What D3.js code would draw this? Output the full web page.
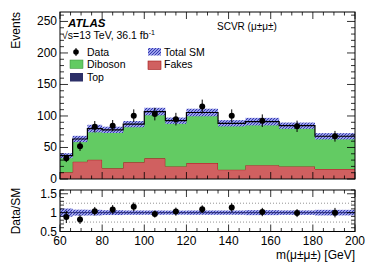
<!DOCTYPE html>
<html><head><meta charset="utf-8">
<script src="https://cdn.jsdelivr.net/npm/d3@7"></script>
<style>body{margin:0;background:#fff}svg{display:block}text{font-family:"Liberation Sans",Arial,Helvetica,sans-serif;fill:#000}</style>
</head><body><svg id="c" width="374" height="268"></svg>
<script>
// ---- data ----
const binEdges = [60, 66, 73, 80, 90, 100, 110, 120, 135, 148, 164, 181, 200];
const fakes    = [10.6, 27.5, 30.6, 17, 26.5, 32.8, 20, 25.4, 14.8, 22, 20, 15.9];
const diboson  = [25.4, 35, 48.4, 60, 59.5, 73.2, 71.5, 79.1, 72.6, 68, 63.6, 50.9];
const topQuark = [1, 1, 1, 1, 1, 1, 1, 1, 1, 1, 1, 1];
const smUnc    = [4, 5, 6, 5, 5, 6, 5, 6, 5, 6, 5, 5];
const dataVals = [32.8, 52, 83, 84.6, 100.5, 103, 95, 115, 100.5, 92.5, 83.6, 67.8];
const dataErr  = [6, 7.5, 9, 9, 10, 10, 10, 11, 10, 10, 9, 8.5];
const xTicks = [60, 80, 100, 120, 140, 160, 180, 200];
const yTicks = [0, 50, 100, 150, 200, 250];
const rTicks = [0.5, 1, 1.5];

const svg = d3.select("#c");
const L = 60, R = 355, mT = 12, mB = 179, rT = 190, rB = 231.5;
const x = d3.scaleLinear().domain([60, 200]).range([L, R]);
const y = d3.scaleLinear().domain([0, 265]).range([mB, mT]);
const yr = d3.scaleLinear().domain([0.5, 1.6]).range([rB, rT]);

const defs = svg.append("defs");
const pat = defs.append("pattern").attr("id","hatch").attr("patternUnits","userSpaceOnUse")
  .attr("width",3).attr("height",3);
pat.append("rect").attr("width",3).attr("height",3).attr("fill","#9aa0ea");
pat.append("path").attr("d","M-1,1 l2,-2 M0,3 l3,-3 M2,4 l2,-2").attr("stroke","#2a2ea8").attr("stroke-width",0.9);
const clipM = defs.append("clipPath").attr("id","clipM");
clipM.append("rect").attr("x",L).attr("y",mT).attr("width",R-L).attr("height",mB-mT);

const n = fakes.length;
const total = d3.range(n).map(i => fakes[i] + diboson[i] + topQuark[i]);
const layers = [fakes, diboson, topQuark];
const colors = ["#d06060", "#63cb63", "#2c2f68"];
const strokes = ["#a01818", "#3a8a3a", "#1a1c48"];
const g = svg.append("g").attr("clip-path","url(#clipM)");
let base = d3.range(n).map(() => 0);
layers.forEach((arr, k) => {
  const pts = d3.range(n).map(i => ({x: binEdges[i], y0: base[i], y1: base[i] + arr[i]}));
  pts.push({x: binEdges[n], y0: pts[n-1].y0, y1: pts[n-1].y1});
  const area = d3.area().curve(d3.curveStepAfter).x(d => x(d.x)).y0(d => y(d.y0)).y1(d => y(d.y1));
  g.append("path").attr("d", area(pts)).attr("fill", colors[k]);
  const line = d3.line().curve(d3.curveStepAfter).x(d => x(d.x)).y(d => y(d.y1));
  if (k === 0) g.append("path").attr("d", line(pts)).attr("fill","none").attr("stroke",strokes[k]).attr("stroke-width",1);
  base = base.map((b, i) => b + arr[i]);
});
// uncertainty band
g.selectAll(".unc").data(d3.range(n)).enter().append("rect")
  .attr("x", i => x(binEdges[i])).attr("width", i => x(binEdges[i+1]) - x(binEdges[i]))
  .attr("y", i => y(total[i] + smUnc[i])).attr("height", i => y(total[i] - smUnc[i]) - y(total[i] + smUnc[i]))
  .attr("fill","url(#hatch)");
const tpts = d3.range(n).map(i => ({x: binEdges[i], y: total[i]}));
tpts.push({x: binEdges[n], y: total[n-1]});
g.append("path").attr("d", d3.line().curve(d3.curveStepAfter).x(d => x(d.x)).y(d => y(d.y))(tpts))
  .attr("fill","none").attr("stroke","#000").attr("stroke-width",1.2);

// data points
const centers = d3.range(n).map(i => (binEdges[i] + binEdges[i+1]) / 2);
const dg = svg.append("g");
d3.range(n).forEach(i => {
  dg.append("line").attr("x1", x(centers[i])).attr("x2", x(centers[i]))
    .attr("y1", y(dataVals[i] - dataErr[i])).attr("y2", y(dataVals[i] + dataErr[i])).attr("stroke","#000").attr("stroke-width",1);
  dg.append("circle").attr("cx", x(centers[i])).attr("cy", y(dataVals[i])).attr("r", 3).attr("fill","#000");
});

// ratio panel
const ratio = d3.range(n).map(i => dataVals[i] / total[i]);
const rErr = d3.range(n).map(i => dataErr[i] / total[i]);
const rg = svg.append("g");
rg.selectAll(".ru").data(d3.range(n)).enter().append("rect")
  .attr("x", i => x(binEdges[i])).attr("width", i => x(binEdges[i+1]) - x(binEdges[i]))
  .attr("y", i => yr(1 + smUnc[i]/total[i])).attr("height", i => yr(1 - smUnc[i]/total[i]) - yr(1 + smUnc[i]/total[i]))
  .attr("fill","url(#hatch)");
[0.75, 1.25].forEach(v => rg.append("line").attr("x1",L).attr("x2",R).attr("y1",yr(v)).attr("y2",yr(v))
  .attr("stroke","#777").attr("stroke-width",0.8).attr("stroke-dasharray","1,2"));
rg.append("line").attr("x1",L).attr("x2",R).attr("y1",yr(1)).attr("y2",yr(1))
  .attr("stroke","#22246a").attr("stroke-width",0.9);
d3.range(n).forEach(i => {
  rg.append("line").attr("x1", x(centers[i])).attr("x2", x(centers[i]))
    .attr("y1", yr(ratio[i] - rErr[i])).attr("y2", yr(ratio[i] + rErr[i])).attr("stroke","#000");
  rg.append("circle").attr("cx", x(centers[i])).attr("cy", yr(ratio[i])).attr("r", 3).attr("fill","#000");
});

// axes (ATLAS style: inward ticks on all sides)
function frame(top_, bot_, ys, yMaj, yMin, yLabels, xLabels) {
  const a = svg.append("g");
  a.append("rect").attr("x",L).attr("y",top_).attr("width",R-L).attr("height",bot_-top_)
    .attr("fill","none").attr("stroke","#000").attr("stroke-width",1);
  const xs = d3.range(60, 201, 5);
  xs.forEach(v => {
    const len = (v % 20 === 0) ? 7 : 3.5;
    a.append("line").attr("x1",x(v)).attr("x2",x(v)).attr("y1",bot_).attr("y2",bot_-len).attr("stroke","#000").attr("stroke-width",0.8);
    a.append("line").attr("x1",x(v)).attr("x2",x(v)).attr("y1",top_).attr("y2",top_+len).attr("stroke","#000").attr("stroke-width",0.8);
  });
  yMin.forEach(v => {
    const len = yMaj.includes(v) ? 8 : 4;
    a.append("line").attr("x1",L).attr("x2",L+len).attr("y1",ys(v)).attr("y2",ys(v)).attr("stroke","#000").attr("stroke-width",0.8);
    a.append("line").attr("x1",R).attr("x2",R-len).attr("y1",ys(v)).attr("y2",ys(v)).attr("stroke","#000").attr("stroke-width",0.8);
  });
  if (yLabels) yMaj.forEach(v => a.append("text").attr("x",L-3).attr("y",ys(v)+4).attr("text-anchor","end")
      .attr("font-size",12).text(yLabels(v)));
  if (xLabels) xTicks.forEach(v => a.append("text").attr("x",x(v)).attr("y",bot_+13).attr("text-anchor","middle")
      .attr("font-size",12).text(v));
}
frame(mT, mB, y, yTicks, d3.range(0, 261, 10), v => v, false);
frame(rT, rB, yr, rTicks, d3.range(5, 17, 1).map(v => +(v/10).toFixed(1)), v => v, true);

// labels
svg.append("text").attr("transform","translate(20,12) rotate(-90)").attr("text-anchor","end")
  .attr("font-size",12).text("Events");
svg.append("text").attr("transform","translate(20,211) rotate(-90)").attr("text-anchor","middle")
  .attr("font-size",12).text("Data/SM");
svg.append("text").attr("x",R).attr("y",259).attr("text-anchor","end").attr("font-size",12).text("m(μ±μ±) [GeV]");
svg.append("text").attr("x",68).attr("y",27).attr("font-size",11.5).attr("font-weight","bold").attr("font-style","italic").text("ATLAS");
const t2 = svg.append("text").attr("x",62).attr("y",39).attr("font-size",10.5);
t2.append("tspan").text("√s=13 TeV, 36.1 fb");
t2.append("tspan").attr("dy",-4).attr("font-size",7).text("-1");
svg.append("text").attr("x",217).attr("y",30).attr("font-size",10).text("SCVR (μ±μ±)");

// legend
const lg = svg.append("g").attr("font-size",10.5);
lg.append("circle").attr("cx",76).attr("cy",52).attr("r",2.8).attr("fill","#000");
lg.append("line").attr("x1",76).attr("x2",76).attr("y1",48).attr("y2",56).attr("stroke","#000");
lg.append("text").attr("x",87).attr("y",56).text("Data");
lg.append("rect").attr("x",70).attr("y",60).attr("width",13).attr("height",8.5).attr("fill",colors[1]).attr("stroke","#3a8a3a").attr("stroke-width",0.5);
lg.append("text").attr("x",87).attr("y",68).text("Diboson");
lg.append("rect").attr("x",70).attr("y",73).attr("width",13).attr("height",8.5).attr("fill",colors[2]);
lg.append("text").attr("x",87).attr("y",81).text("Top");
lg.append("rect").attr("x",148).attr("y",48).attr("width",13).attr("height",7.5).attr("fill","url(#hatch)");
lg.append("text").attr("x",164).attr("y",56).text("Total SM");
lg.append("rect").attr("x",148).attr("y",61).attr("width",13).attr("height",8.5).attr("fill",colors[0]).attr("stroke","#a01818").attr("stroke-width",0.6);
lg.append("text").attr("x",164).attr("y",68).text("Fakes");
</script></body></html>
